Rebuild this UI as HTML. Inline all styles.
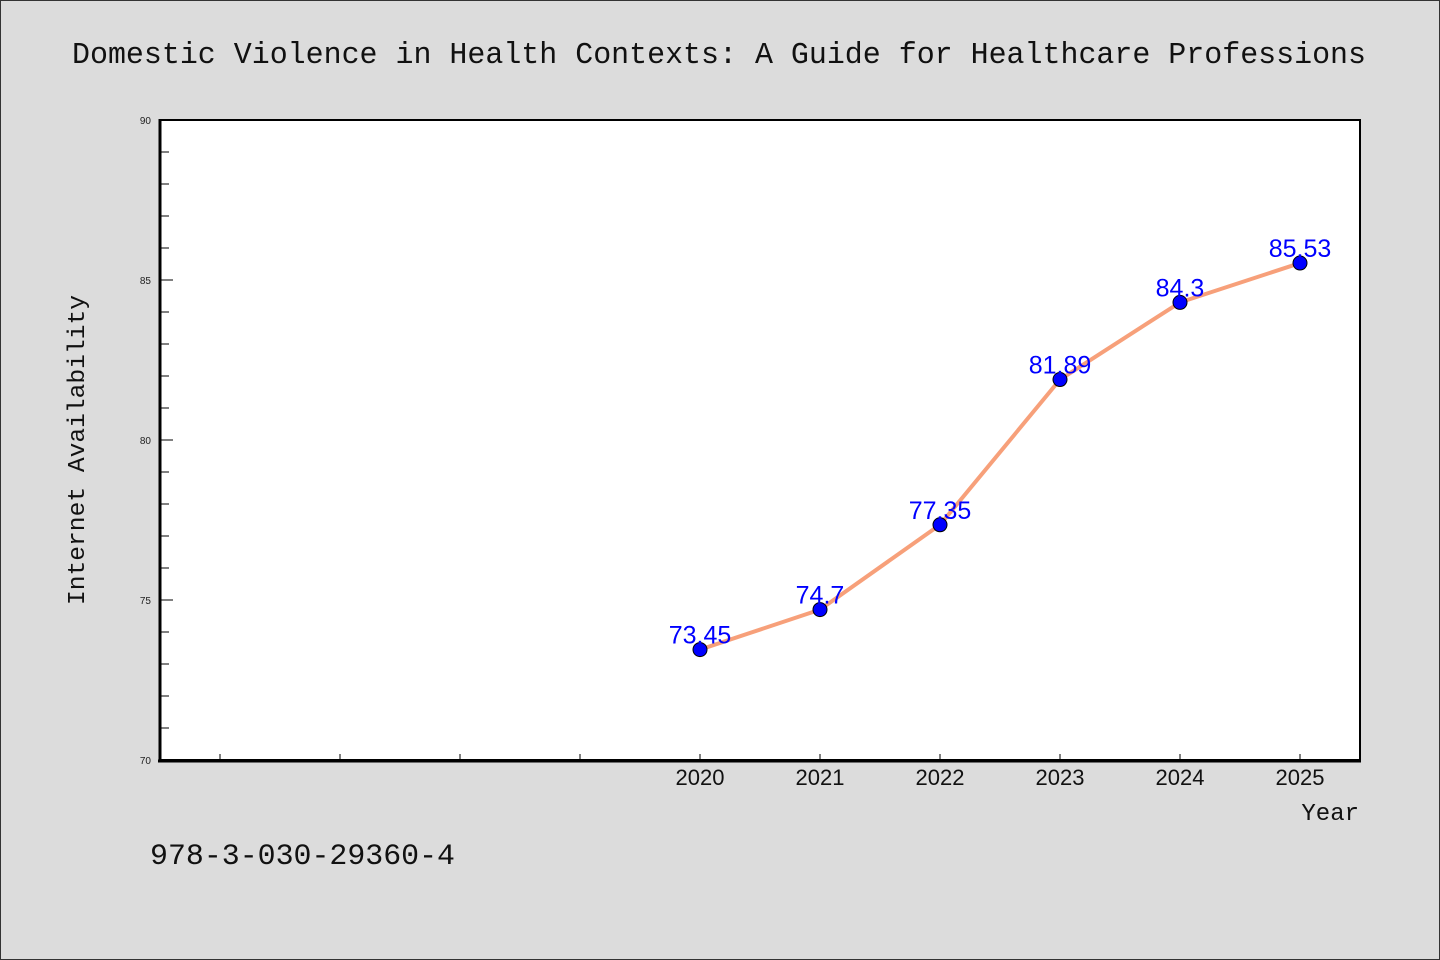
<!DOCTYPE html>
<html><head><meta charset="utf-8"><style>
body{margin:0;background:#dcdcdc;}
svg{display:block;}
</style></head><body>
<svg id="chart" width="1440" height="960" xmlns="http://www.w3.org/2000/svg">
<rect x="0.5" y="0.5" width="1439" height="959" fill="#dcdcdc" stroke="#333" stroke-width="1"/>
<text x="719" y="63" text-anchor="middle" font-family="Liberation Mono, monospace" font-size="31" textLength="1294" lengthAdjust="spacingAndGlyphs" fill="#111">Domestic Violence in Health Contexts: A Guide for Healthcare Professions</text>
<rect x="160" y="120" width="1200" height="640" fill="#fff" stroke="#000" stroke-width="2"/>
<g id="ticks"></g>
<g id="series"></g>
<line x1="160" y1="119" x2="160" y2="762" stroke="#000" stroke-width="3"/>
<line x1="158" y1="761" x2="1361" y2="761" stroke="#000" stroke-width="3"/>
<text transform="translate(84,450) rotate(-90)" text-anchor="middle" font-family="Liberation Mono, monospace" font-size="24" textLength="310" lengthAdjust="spacingAndGlyphs" fill="#111">Internet Availability</text>
<text x="1359" y="820" text-anchor="end" font-family="Liberation Mono, monospace" font-size="24" fill="#111">Year</text>
<text x="150" y="864" font-family="Liberation Mono, monospace" font-size="30" textLength="305" lengthAdjust="spacingAndGlyphs" fill="#111">978-3-030-29360-4</text>
</svg>
<script>
const years=[2020,2021,2022,2023,2024,2025];
const values=[73.45,74.7,77.35,81.89,84.3,85.53];
const labels=['73.45','74.7','77.35','81.89','84.3','85.53'];
const yTicks=[70,75,80,85,90];
const NS='http://www.w3.org/2000/svg';
const X=y=>220+(y-2016)*120;
const Y=v=>760-(v-70)*32;
function mk(t,a,p){const e=document.createElementNS(NS,t);for(const k in a)e.setAttribute(k,a[k]);p.appendChild(e);return e;}
const tg=document.getElementById('ticks');
for(let v=70;v<=90;v++){
  const major=v%5===0;
  const l=mk('line',{x1:160,x2:major?173:169,y1:Y(v),y2:Y(v),stroke:'#000','stroke-width':1},tg);
  
  
}
yTicks.forEach(v=>{
  const t=mk('text',{x:151,y:Y(v)+4,'text-anchor':'end','font-family':'Liberation Sans, sans-serif','font-size':10,fill:'#222'},tg);
  t.textContent=v;
  
  
});
for(let y=2016;y<=2025;y++){
  const l=mk('line',{x1:X(y),x2:X(y),y1:760,y2:754,stroke:'#000','stroke-width':1},tg);
  
  
}
years.forEach(y=>{
  const t=mk('text',{x:X(y),y:785,'text-anchor':'middle','font-family':'Liberation Sans, sans-serif','font-size':22,fill:'#111'},tg);
  t.textContent=y;
  
  
});
const sg=document.getElementById('series');
const pl=mk('polyline',{points:years.map((y,i)=>X(y)+','+Y(values[i])).join(' '),fill:'none',stroke:'#f7a07a','stroke-width':4,'stroke-linejoin':'round'},sg);


years.forEach((y,i)=>{
  const c=mk('circle',{cx:X(y),cy:Y(values[i]),r:7,fill:'#0000ff',stroke:'#000','stroke-width':1},sg);
  
  
  const t=mk('text',{x:X(y),y:Y(values[i])-6,'text-anchor':'middle','font-family':'Liberation Sans, sans-serif','font-size':25,fill:'#0000ff'},sg);
  t.textContent=labels[i];
  
  
});
</script>
</body></html>
